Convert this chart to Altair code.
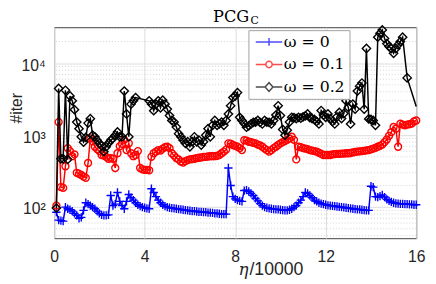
import altair as alt
import pandas as pd

# ---------------- data ----------------
eta = [round(0.1 * i, 1) for i in range(1, 161)]

iter_w0 = [
    85, 66, 65, 64, 100, 95, 92, 88, 82, 77,
    70, 72, 90, 115, 110, 105, 100, 95, 88, 82,
    78, 77, 77, 78, 145, 105, 110, 160, 120, 105,
    95, 120, 150, 135, 125, 115, 108, 103, 100, 98,
    96, 95, 180, 160, 140, 125, 115, 108, 103, 100,
    98, 97, 96, 95, 94, 93, 92, 91, 90, 89,
    88, 88, 87, 86, 86, 85, 85, 84, 84, 83,
    82, 82, 81, 80, 80, 80, 350, 200, 140, 130,
    125, 122, 120, 170, 172, 165, 155, 145, 132, 122,
    112, 105, 100, 98, 96, 95, 94, 93, 93, 92,
    91, 90, 90, 92, 95, 100, 105, 115, 125, 140,
    160, 155, 145, 135, 125, 120, 115, 112, 110, 108,
    106, 105, 104, 103, 102, 101, 100, 99, 98, 97,
    96, 95, 94, 93, 93, 92, 91, 90, 90, 195,
    190, 140, 138, 142, 148, 138, 128, 122, 118, 115,
    113, 112, 111, 111, 110, 110, 109, 109, 108, 108,
]

iter_w01 = [
    105, 1520, 190, 185, 370, 660, 600, 510, 540, 300,
    290, 280, 265, 255, 410, 900, 820, 690, 640, 600,
    530, 520, 500, 470, 480, 470, 350, 560, 700, 760,
    860, 620, 770, 560, 510, 530, 600, 350, 335, 330,
    330, 325, 500, 560, 590, 620, 610, 650, 680, 690,
    660, 560, 520, 480, 460, 430, 415, 435, 450, 460,
    465, 470, 480, 485, 490, 500, 500, 505, 510, 510,
    510, 515, 530, 560, 590, 630, 770, 760, 730, 710,
    690, 660, 620, 850, 840, 810, 800, 780, 770, 740,
    720, 690, 650, 620, 590, 620, 660, 690, 730, 770,
    800, 830, 860, 900, 950, 860, 460, 690, 680, 660,
    650, 640, 620, 610, 600, 590, 570, 550, 530, 530,
    530, 530, 540, 545, 550, 550, 555, 555, 560, 560,
    565, 575, 585, 590, 595, 600, 605, 615, 620, 635,
    650, 665, 690, 710, 740, 800, 870, 980, 1100, 1300,
    1230, 690, 1440, 1400, 1370, 1400, 1420, 1450, 1550, 1600,
]

iter_w02 = [
    97, 4450, 470, 470, 4200, 460, 3500, 3000, 2260, 1520,
    1230, 950, 800, 930, 1470, 1690, 1000, 950, 850, 770,
    710, 590, 690, 770, 850, 900, 1000, 1110, 950, 950,
    4100, 1970, 950, 2700, 3000, 3330, None, None, None, None,
    None, 3000, 2700, 2190, 2700, 3000, 2400, 3060, 2700, 2300,
    1870, 1600, 1520, 1300, 1050, 950, 850, 770, 810, 690,
    810, 950, 810, 850, 730, 810, 1000, 1230, 950, 1370,
    1600, 1370, 1440, 1520, 1370, 1600, 1970, 2560, 3330, 3500,
    3900, 1770, 1600, 1450, 1290, 1350, 1430, 1500, 1520, 1600,
    1500, 1430, 1600, 1520, 1500, 1430, 1600, 1900, 2560, 1870,
    1200, 1000, 1170, 1520, 1770, 1750, 1700, 1770, 1720, 1800,
    1850, 1970, 1750, 1700, 1650, 1550, 1430, 2200, 1900, 1770,
    1970, 1700, 1550, 1430, 1800, 2070, 1700, 2000, 3000, 2430,
    1430, 2700, 2300, 4100, 4800, 5300, 2300, 16000, 1680, 1650,
    1600, 1370, 23000, 26000, 29000, 22000, 18700, 17000, 16000, 13700,
    16000, 18000, 20000, 23000, None, 6250, None, None, None, 2500,
]

labels = ["ω = 0", "ω = 0.1", "ω = 0.2"]
colors = ["#0000ff", "#ff0000", "#000000"]
x_ticks = [0, 4, 8, 12, 16]
y_major = [100, 1000, 10000]
y_minor = [40, 50, 60, 70, 80, 90, 200, 300, 400, 500, 600, 700, 800, 900,
           2000, 3000, 4000, 5000, 6000, 7000, 8000, 9000, 20000, 30000]

# ---------------- styling ----------------
marker_paths = ["M-1,0H1M0,-1V1", "circle", "diamond"]
marker_sizes = [72, 50, 72]
legend_paths = [
    "M-2.7,0H2.7M0,-0.8V0.8",
    "M-2.7,0H-0.65M0.65,0H2.7M0.65,0A0.65,0.65,0,1,1,-0.65,0A0.65,0.65,0,1,1,0.65,0",
    "M-2.7,0H-0.8M0.8,0H2.7M-0.8,0L0,-0.9L0.8,0L0,0.9Z",
]

W, H = 369, 215
xscale = alt.Scale(domain=[0, 16], nice=False, zero=False)
yscale = alt.Scale(type="log", domain=[37, 31600], nice=False)
font_sans = "Liberation Sans"
font_serif = "DejaVu Serif"
axis_col = "#262626"

x_axis = alt.Axis(
    values=x_ticks, grid=True, gridColor="#dcdcdc", domain=False, ticks=False, tickSize=0,
    labelFont=font_sans, labelFontSize=16, labelColor=axis_col, labelPadding=11,
    labelFlush=False, title=None)
y_axis = alt.Axis(
    values=y_major, grid=True, gridColor="#dcdcdc", domain=False, ticks=False, tickSize=0,
    labelExpr="datum.value == 100 ? '10²' : datum.value == 1000 ? '10³' : '10⁴'",
    labelFont=font_sans, labelFontSize=16, labelColor=axis_col, labelPadding=9,
    labelOffset=2, labelFlush=False,
    title="#iter", titleFont=font_sans, titleFontSize=16, titleFontWeight="normal",
    titleColor=axis_col, titleX=-38, titleY=82, titleAngle=270,
    titleAlign="center", titleBaseline="middle")

series = [iter_w0, iter_w01, iter_w02]
frames = []
for lab, vals in zip(labels, series):
    frames.append(pd.DataFrame({"eta": eta, "it": vals, "s": lab}).dropna())

layers = []
# minor grid (dotted) drawn through the y scale
minor = alt.Chart(pd.DataFrame({"v": y_minor})).mark_rule(
    color="#c8c8c8", strokeDash=[1, 2], strokeWidth=0.8
).encode(y=alt.Y("v:Q", scale=yscale, axis=y_axis))
carrier = alt.Chart(pd.DataFrame({"eta": [0.0], "v": [100]})).mark_point(opacity=0).encode(
    x=alt.X("eta:Q", scale=xscale, axis=x_axis),
    y=alt.Y("v:Q", scale=yscale, axis=y_axis),
)
layers += [minor, carrier]

for i, (df, col, shp, sz) in enumerate(zip(frames, colors, marker_paths, marker_sizes)):
    enc = dict(
        x=alt.X("eta:Q", scale=xscale, axis=x_axis),
        y=alt.Y("it:Q", scale=yscale, axis=y_axis),
    )
    line = alt.Chart(df).mark_line(color=col, strokeWidth=1.5).encode(**enc)
    # the last omega=0.2 sample shows no marker in the reference
    pdf = df[df["eta"] < 16] if i == 2 else df
    pts = alt.Chart(pdf).mark_point(
        shape=shp, size=sz, filled=False, color=col, strokeWidth=1.4, opacity=1
    ).encode(**enc)
    layers += [line, pts]

legend_props = dict(
    orient="none", legendX=198, legendY=3, title=None,
    fillColor="white", strokeColor="#a0a0a0", padding=4, cornerRadius=0,
    labelFont=font_serif, labelFontSize=16, labelColor="black",
    symbolSize=100, symbolStrokeWidth=1.5, symbolOffset=9, labelOffset=7,
    rowPadding=7,
)
legend_layer = alt.Chart(pd.DataFrame({"s": labels})).mark_point(
    filled=False, size=100, strokeWidth=1.5
).encode(
    shape=alt.Shape("s:N", scale=alt.Scale(domain=labels, range=legend_paths),
                    legend=alt.Legend(**legend_props)),
    stroke=alt.Stroke("s:N", scale=alt.Scale(domain=labels, range=colors),
                      legend=alt.Legend(**legend_props)),
).transform_filter("false")
layers.append(legend_layer)


def text_layer(txt, x, y, font, size, style="normal", color="black"):
    return alt.Chart(pd.DataFrame({"t": [txt]})).mark_text(
        align="left", baseline="alphabetic", font=font, fontSize=size,
        fontStyle=style, color=color
    ).encode(text="t:N", x=alt.value(x), y=alt.value(y))


# title PCG with subscript C
layers += [
    text_layer("PCG", 162, -5.5, font_serif, 16.5),
    text_layer("C", 200, -3.5, font_serif, 11),
    # x-axis title: italic eta + "/10000"
    text_layer("η", 188, 252, font_serif, 17, style="italic", color=axis_col),
    text_layer("/10000", 199, 252, font_sans, 18, color=axis_col),
]

chart = alt.layer(*layers).resolve_scale(shape="independent", stroke="independent").properties(
    width=W, height=H,
    padding={"left": 47, "top": 17, "right": 12, "bottom": 40},
    autosize=alt.AutoSizeParams(type="none"),
).configure_view(stroke="#404040", strokeWidth=1)

chart.save("out.html", embed_options={"renderer": "svg", "actions": False})
